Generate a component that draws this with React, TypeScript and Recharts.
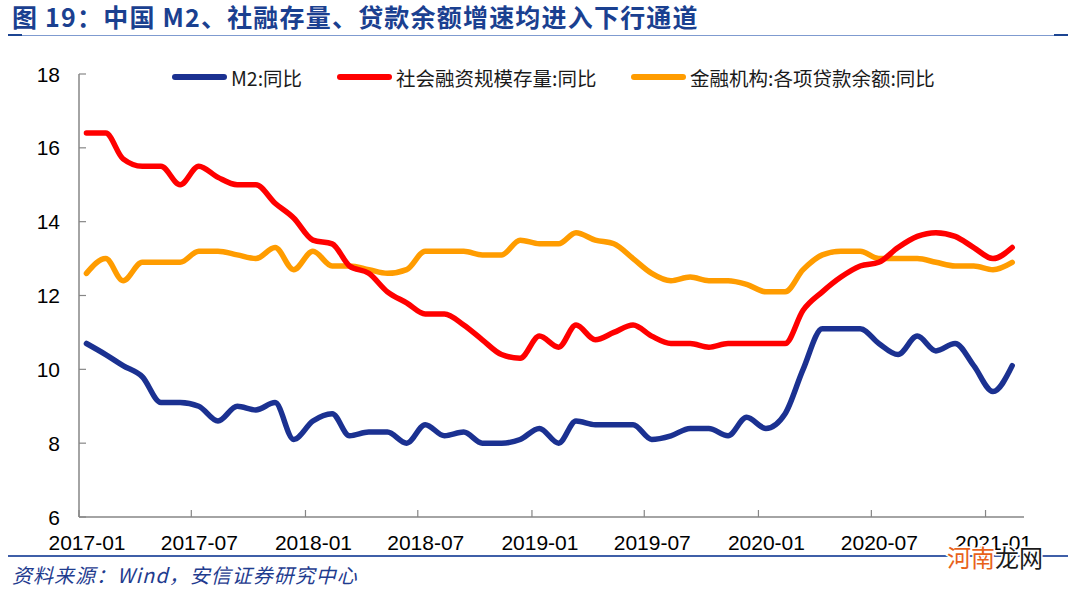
import { Line, LineChart, XAxis, YAxis } from "recharts"

// monthly, 2017-01 .. 2021-02
const months = [
  "2017-01", "2017-02", "2017-03", "2017-04", "2017-05", "2017-06",
  "2017-07", "2017-08", "2017-09", "2017-10", "2017-11", "2017-12",
  "2018-01", "2018-02", "2018-03", "2018-04", "2018-05", "2018-06",
  "2018-07", "2018-08", "2018-09", "2018-10", "2018-11", "2018-12",
  "2019-01", "2019-02", "2019-03", "2019-04", "2019-05", "2019-06",
  "2019-07", "2019-08", "2019-09", "2019-10", "2019-11", "2019-12",
  "2020-01", "2020-02", "2020-03", "2020-04", "2020-05", "2020-06",
  "2020-07", "2020-08", "2020-09", "2020-10", "2020-11", "2020-12",
  "2021-01", "2021-02",
]

const m2 = [
  10.7, 10.4, 10.1, 9.8, 9.1, 9.1, 9.0, 8.6, 9.0, 8.9, 9.1, 8.1,
  8.6, 8.8, 8.2, 8.3, 8.3, 8.0, 8.5, 8.2, 8.3, 8.0, 8.0, 8.1,
  8.4, 8.0, 8.6, 8.5, 8.5, 8.5, 8.1, 8.2, 8.4, 8.4, 8.2, 8.7,
  8.4, 8.8, 10.0, 11.1, 11.1, 11.1, 10.7, 10.4, 10.9, 10.5, 10.7, 10.1,
  9.4, 10.1,
]

const tsf = [
  16.4, 16.4, 15.7, 15.5, 15.5, 15.0, 15.5, 15.2, 15.0, 15.0, 14.5, 14.1,
  13.5, 13.4, 12.8, 12.6, 12.1, 11.8, 11.5, 11.5, 11.2, 10.8, 10.4, 10.3,
  10.9, 10.6, 11.2, 10.8, 11.0, 11.2, 10.9, 10.7, 10.7, 10.6, 10.7, 10.7,
  10.7, 10.7, 11.6, 12.1, 12.5, 12.8, 12.9, 13.3, 13.6, 13.7, 13.6, 13.3,
  13.0, 13.3,
]

const loans = [
  12.6, 13.0, 12.4, 12.9, 12.9, 12.9, 13.2, 13.2, 13.1, 13.0, 13.3, 12.7,
  13.2, 12.8, 12.8, 12.7, 12.6, 12.7, 13.2, 13.2, 13.2, 13.1, 13.1, 13.5,
  13.4, 13.4, 13.7, 13.5, 13.4, 13.0, 12.6, 12.4, 12.5, 12.4, 12.4, 12.3,
  12.1, 12.1, 12.7, 13.1, 13.2, 13.2, 13.0, 13.0, 13.0, 12.9, 12.8, 12.8,
  12.7, 12.9,
]

const tickLabels = [
  "2017-01", "2017-07", "2018-01", "2018-07", "2019-01",
  "2019-07", "2020-01", "2020-07", "2021-01",
]
const yTicks = [6, 8, 10, 12, 14, 16, 18]

const legendItems = [
  { key: "m2", name: "M2:同比", color: "#1B3191", left: 172 },
  { key: "tsf", name: "社会融资规模存量:同比", color: "#FF0000", left: 337 },
  { key: "loans", name: "金融机构:各项贷款余额:同比", color: "#FF9C00", left: 631 },
]

const toTime = (ym: string, day: number) => {
  const [y, m] = ym.split("-").map(Number)
  return Date.UTC(y, m - 1, day)
}

// points sit mid-month, ticks on the 1st
const data = months.map((m, i) => ({
  t: toTime(m, 13),
  m2: m2[i],
  tsf: tsf[i],
  loans: loans[i],
}))
const xTicks = tickLabels.map((s) => toTime(s, 1))
const xDomain = [toTime("2017-01", 1), toTime("2021-03", 4)]

const AXIS = "#868686"
const TICK_FONT = '"Liberation Sans", Arial, sans-serif'
const CJK = '"Noto Sans CJK SC", "Noto Sans", sans-serif'

const fmtMonth = (t: number) => {
  const d = new Date(t)
  return `${d.getUTCFullYear()}-${String(d.getUTCMonth() + 1).padStart(2, "0")}`
}

function XTick({ x, y, payload }: any) {
  return (
    <g>
      <line x1={x} x2={x} y1={y} y2={y - 7} stroke={AXIS} strokeWidth={1.2} />
      <text
        x={x + 8}
        y={y + 33}
        textAnchor="middle"
        fontSize={21}
        fontFamily={TICK_FONT}
        fill="#000"
      >
        {fmtMonth(payload.value)}
      </text>
    </g>
  )
}

function YTick({ x, y, payload }: any) {
  return (
    <g>
      <line x1={x} x2={x + 7} y1={y} y2={y} stroke={AXIS} strokeWidth={1.2} />
      <text
        x={x - 19}
        y={y}
        dy="0.36em"
        textAnchor="end"
        fontSize={21}
        fontFamily={TICK_FONT}
        fill="#000"
      >
        {payload.value}
      </text>
    </g>
  )
}

export default function App() {
  return (
    <div
      style={{
        position: "absolute",
        left: 0,
        top: 0,
        width: 1080,
        height: 589,
        background: "#fff",
        overflow: "hidden",
      }}
    >
      <div
        style={{
          position: "absolute",
          left: 12,
          top: 2,
          lineHeight: "28px",
          fontFamily: CJK,
          fontWeight: 700,
          fontSize: 25,
          letterSpacing: 1.2,
          color: "#1A4090",
          whiteSpace: "nowrap",
        }}
      >
        图 19：中国 M2、社融存量、贷款余额增速均进入下行通道
      </div>
      <div style={{ position: "absolute", left: 8, top: 35, width: 1060, height: 1, background: "#7F9BD0" }} />
      <div style={{ position: "absolute", left: 8, top: 34, width: 14, height: 2, background: "#1C4592" }} />
      <div style={{ position: "absolute", left: 1054, top: 34, width: 14, height: 2, background: "#1C4592" }} />

      <LineChart
        width={1080}
        height={589}
        data={data}
        margin={{ top: 74, right: 56, bottom: 32, left: 19 }}
        style={{ position: "absolute", left: 0, top: 0 }}
      >
        <XAxis
          dataKey="t"
          type="number"
          domain={xDomain}
          ticks={xTicks}
          interval={0}
          allowDataOverflow
          height={40}
          tickSize={0}
          tickMargin={0}
          tickLine={false}
          axisLine={{ stroke: AXIS, strokeWidth: 1.5 }}
          tick={<XTick />}
        />
        <YAxis
          type="number"
          domain={[6, 18]}
          ticks={yTicks}
          interval={0}
          width={60}
          tickSize={0}
          tickMargin={0}
          tickLine={false}
          axisLine={{ stroke: AXIS, strokeWidth: 1.5 }}
          tick={<YTick />}
        />
        <Line
          dataKey="m2"
          type="monotone"
          stroke="#1B3191"
          strokeWidth={5.5}
          dot={false}
          strokeLinejoin="round"
          strokeLinecap="round"
          isAnimationActive={false}
        />
        <Line
          dataKey="loans"
          type="monotone"
          stroke="#FF9C00"
          strokeWidth={5.5}
          dot={false}
          strokeLinejoin="round"
          strokeLinecap="round"
          isAnimationActive={false}
        />
        <Line
          dataKey="tsf"
          type="monotone"
          stroke="#FF0000"
          strokeWidth={5.5}
          dot={false}
          strokeLinejoin="round"
          strokeLinecap="round"
          isAnimationActive={false}
        />
      </LineChart>

      {/* legend */}
      {legendItems.map((it) => (
        <div
          key={it.key}
          style={{
            position: "absolute",
            left: it.left,
            top: 64,
            height: 26,
            display: "flex",
            alignItems: "center",
            fontFamily: CJK,
            fontSize: 19.5,
            color: "#1A1A1A",
            whiteSpace: "nowrap",
          }}
        >
          <span style={{ display: "inline-block", width: 55, height: 6, borderRadius: 3, background: it.color, marginRight: 4 }} />
          <span>{it.name}</span>
        </div>
      ))}

      <div style={{ position: "absolute", left: 8, top: 555, width: 1060, height: 2, background: "#3F5FA8" }} />
      <div
        style={{
          position: "absolute",
          left: 12,
          top: 562,
          fontFamily: CJK,
          fontStyle: "italic",
          fontSize: 20,
          letterSpacing: 1,
          color: "#1F3C8F",
          whiteSpace: "nowrap",
          lineHeight: "26px",
        }}
      >
        资料来源：Wind，安信证券研究中心
      </div>

      <svg width={120} height={36} style={{ position: "absolute", left: 940, top: 540 }}>
        <text
          x={7}
          y={27}
          fontSize={24}
          fontFamily={CJK}
          stroke="#fff"
          strokeWidth={3}
          paintOrder="stroke"
        >
          <tspan fill="#E8621A">河南</tspan>
          <tspan fill="#1A1A1A">龙网</tspan>
        </text>
      </svg>
    </div>
  )
}
